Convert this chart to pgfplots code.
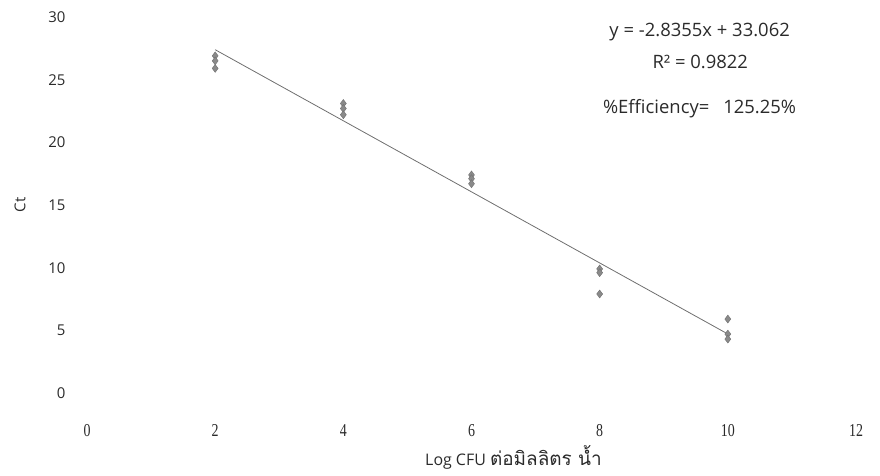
\documentclass[border=0pt]{standalone}
\usepackage{pgfplots}
\pgfplotsset{compat=1.18}
\usepackage{fontspec}
\setmainfont{Open Sans}
\newfontfamily\thaifont[Script=Thai]{Loma}
\newfontfamily\serifticks{Liberation Serif}
\definecolor{txt}{HTML}{2A2A2A}
\definecolor{mk}{HTML}{8A8A8A}
\definecolor{ln}{HTML}{6E6E6E}
\begin{document}
\begin{tikzpicture}
\useasboundingbox (-87bp,-83bp) rectangle (793bp,393bp);
\begin{axis}[
  at={(0,0)}, anchor=origin,
  scale only axis, width=769bp, height=376bp,
  xmin=0, xmax=12, ymin=0, ymax=30,
  xtick={0,2,...,12}, ytick={0,5,...,30},
  axis line style={draw=none},
  tick style={draw=none},
  /pgf/number format/assume math mode=true,
  xticklabel style={font=\serifticks\fontsize{14}{16}\selectfont, text=txt, yscale=1.3, yshift=-21bp},
  yticklabel style={font=\fontsize{15}{17}\selectfont, text=txt, xshift=-18bp},
  xlabel={Log CFU {\thaifont\fontsize{19}{21}\selectfont ต่อมิลลิตร น้ำ}},
  xlabel style={font=\fontsize{16}{18}\selectfont, text=txt, at={(axis description cs:0.5,0)}, anchor=center, xshift=42bp, yshift=-64bp},
  ylabel={Ct},
  ylabel style={font=\fontsize{15}{17}\selectfont, text=txt, at={(axis description cs:0,0.5)}, anchor=center, yshift=67bp},
  clip=false,
]
\addplot[ln, line width=0.8pt, no marks] coordinates {(2,27.391) (10,4.707)};
\addplot[only marks, mark=diamond*, mark size=4pt, mark options={fill=mk, draw=mk!80!black}] coordinates {
(2,26.9) (2,26.5) (2,25.9)
(4,23.1) (4,22.7) (4,22.2)
(6,17.4) (6,17.1) (6,16.7)
(8,9.9) (8,9.6) (8,7.9)
(10,5.9) (10,4.7) (10,4.3)
};
\node[font=\fontsize{18.5}{20}\selectfont, text=txt] at (axis cs:9.56,28.8) {y = -2.8355x + 33.062};
\node[font=\fontsize{18.5}{20}\selectfont, text=txt] at (axis cs:9.57,26.4) {R² = 0.9822};
\node[font=\fontsize{18.5}{20}\selectfont, text=txt, anchor=west, inner sep=0pt] at (axis cs:8.05,22.7) {\%Efficiency=\hspace{14bp}125.25\%};
\end{axis}
\end{tikzpicture}
\end{document}
